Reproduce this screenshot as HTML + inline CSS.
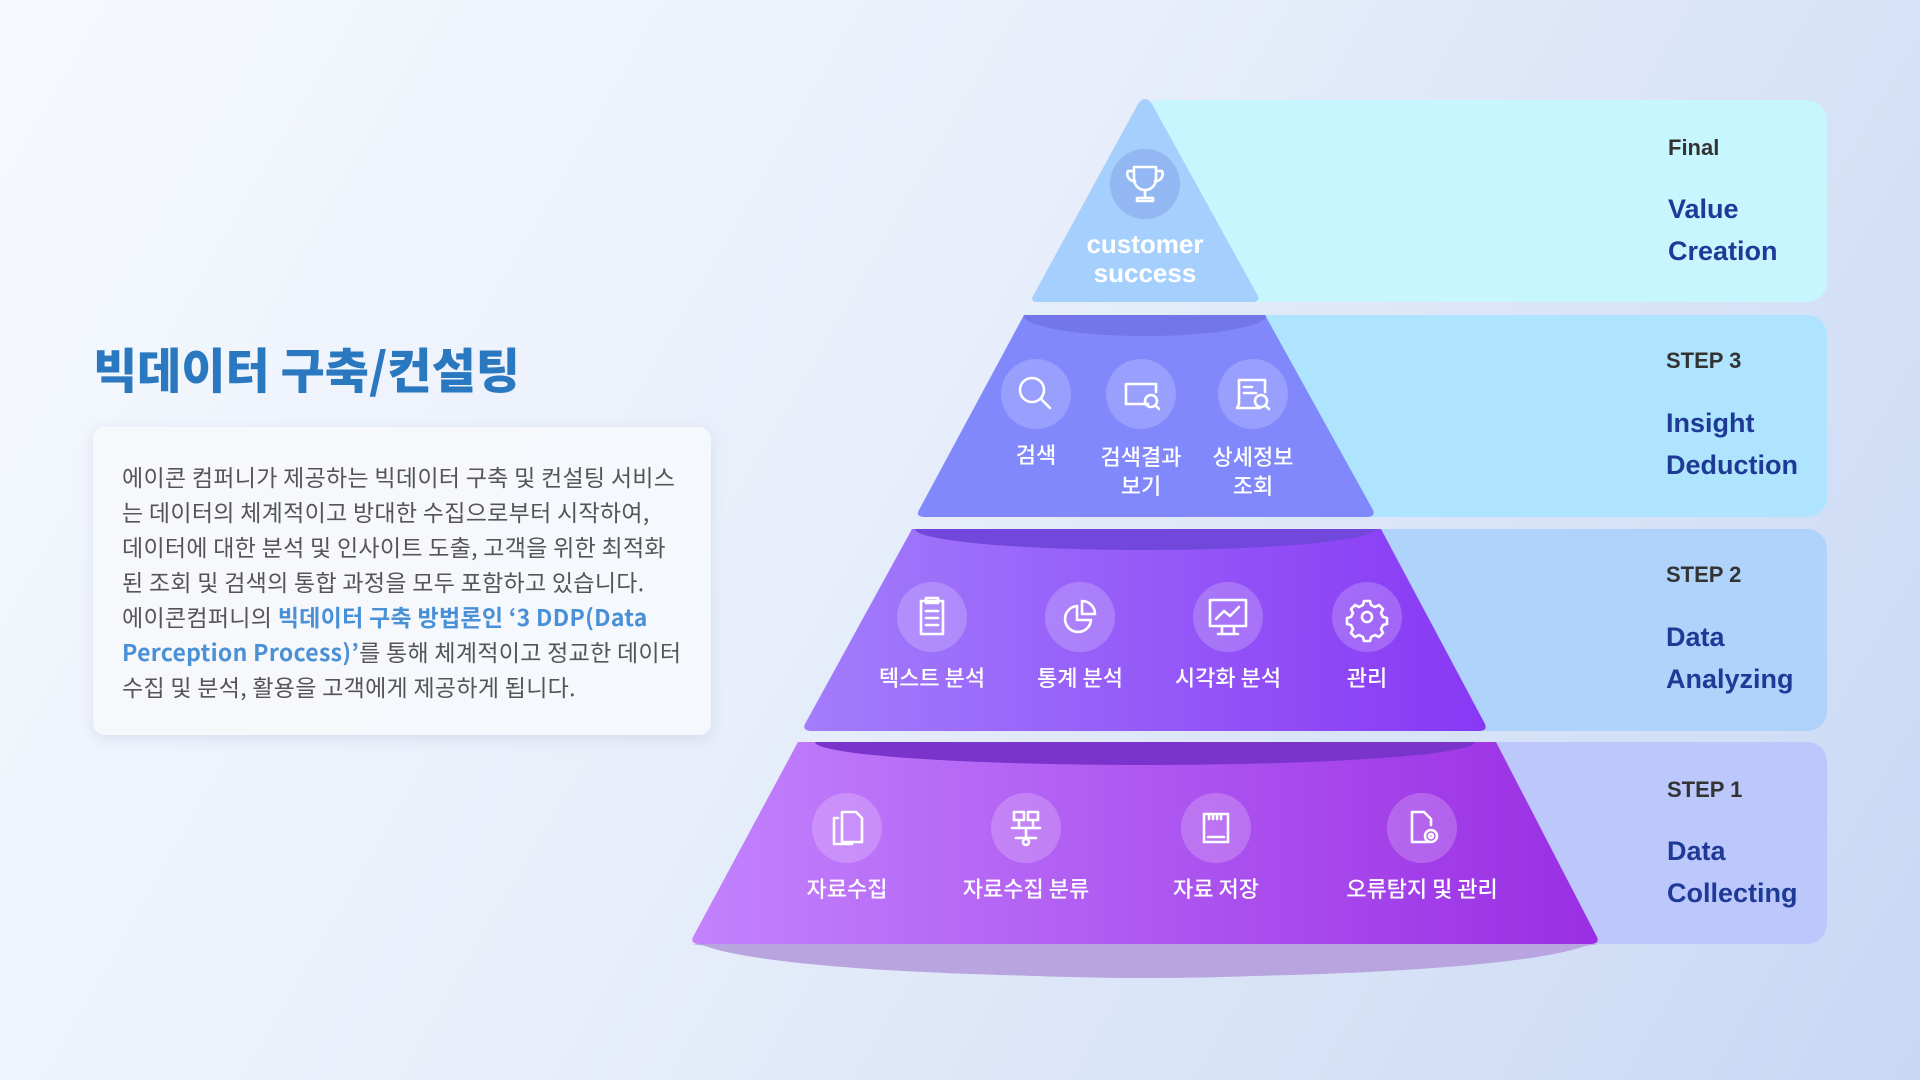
<!DOCTYPE html>
<html><head><meta charset="utf-8"><style>
html,body{margin:0;padding:0;width:1920px;height:1080px;overflow:hidden;}
body{background:linear-gradient(120deg,#f6f9fe 0%,#e8eefa 45%,#c8d8f4 100%);font-family:"Liberation Sans","Noto Sans CJK KR",sans-serif;position:relative;}
h1{position:absolute;left:93px;top:332px;margin:0;font-size:48px;font-weight:900;color:#2a78c0;letter-spacing:0px;font-family:"Noto Sans CJK KR",sans-serif;}
.card{position:absolute;left:93px;top:427px;width:618px;height:308px;background:rgba(246,248,252,0.9);border-radius:12px;box-shadow:0 4px 14px rgba(120,140,180,0.18);}
.card p{margin:0;position:absolute;left:29px;top:32px;font-size:23px;line-height:35px;color:#555;letter-spacing:0.3px;white-space:nowrap;font-family:"Noto Sans CJK KR",sans-serif;}
.card b{color:#4a90d6;font-weight:600;}
svg{position:absolute;left:0;top:0;}
</style></head><body>
<h1>빅데이터 구축/컨설팅</h1>
<div class="card"><p>에이콘 컴퍼니가 제공하는 빅데이터 구축 및 컨설팅 서비스<br>는 데이터의 체계적이고 방대한 수집으로부터 시작하여,<br>데이터에 대한 분석 및 인사이트 도출, 고객을 위한 최적화<br>된 조회 및 검색의 통합 과정을 모두 포함하고 있습니다.<br>에이콘컴퍼니의 <b>빅데이터 구축 방법론인 ‘3 DDP(Data</b><br><b>Perception Process)’</b>를 통해 체계적이고 정교한 데이터<br>수집 및 분석, 활용을 고객에게 제공하게 됩니다.</p></div>
<svg width="1920" height="1080" viewBox="0 0 1920 1080" font-family="Liberation Sans, Noto Sans CJK KR, sans-serif">
<defs>
<linearGradient id="g2" x1="0" x2="1"><stop offset="0" stop-color="#a27dfc"/><stop offset="1" stop-color="#8838f4"/></linearGradient>
<linearGradient id="g1" x1="0" x2="1"><stop offset="0" stop-color="#c382fd"/><stop offset="1" stop-color="#9a2ee4"/></linearGradient>
<clipPath id="c3"><path d="M1024,315 L1265,315 L1373,517 L918,517 Z"/></clipPath>
<clipPath id="c2"><path d="M912,529 L1381,529 L1487,731 L804,731 Z"/></clipPath>
<clipPath id="c1"><path d="M798,742 L1496,742 L1599,944 L692,944 Z"/></clipPath>
</defs>
<rect x="1140" y="100" width="687" height="202" rx="20" fill="#c8f6fe"/>
<rect x="1140" y="315" width="687" height="202" rx="20" fill="#aee4fd"/>
<rect x="1140" y="529" width="687" height="202" rx="20" fill="#b0d3fc"/>
<rect x="1140" y="742" width="687" height="202" rx="20" fill="#bcc8fc"/>
<path d="M692,944 Q1145,1012 1599,944 Z" fill="#b8a4de"/>
<path d="M700,944 C800,988 1490,988 1590,944 Z" fill="#b8a4de"/>
<path d="M1138,104 Q1145,94 1152,104 L1258,296 Q1260,302 1252,302 L1038,302 Q1030,302 1033,296 Z" fill="#a5d0fe"/>
<path d="M1024,315 L1265,315 L1373,510 Q1376,517 1366,517 L925,517 Q915,517 919,510 Z" fill="#8088fc"/>
<g clip-path="url(#c3)"><ellipse cx="1145" cy="315" rx="122" ry="21" fill="#7276ea"/></g>
<path d="M912,529 L1381,529 L1485,724 Q1488,731 1478,731 L812,731 Q802,731 805,724 Z" fill="url(#g2)"/>
<g clip-path="url(#c2)"><ellipse cx="1145" cy="529" rx="230" ry="21" fill="#7248dc"/></g>
<path d="M798,742 L1496,742 L1597,937 Q1600,944 1590,944 L700,944 Q690,944 693,937 Z" fill="url(#g1)"/>
<g clip-path="url(#c1)"><ellipse cx="1145" cy="742" rx="330" ry="23" fill="#7a34cc"/></g>
<g fill="#ffffff" fill-opacity="0.2">
<circle cx="1145" cy="184" r="35" fill="#7f9ee8" fill-opacity="0.5"/>
<circle cx="1036" cy="394" r="35"/><circle cx="1141" cy="394" r="35"/><circle cx="1253" cy="394" r="35"/>
<circle cx="932" cy="617" r="35"/><circle cx="1080" cy="617" r="35"/><circle cx="1228" cy="617" r="35"/><circle cx="1367" cy="617" r="35"/>
<circle cx="847" cy="828" r="35"/><circle cx="1026" cy="828" r="35"/><circle cx="1216" cy="828" r="35"/><circle cx="1422" cy="828" r="35"/>
</g>
<g fill="none" stroke="#fff" stroke-width="2.6" stroke-linecap="round" stroke-linejoin="round">
<path d="M1134,167 h22 v12 a11,11 0 0 1 -22,0 z M1134,171 h-6 a7,7 0 0 0 7,10 M1156,171 h6 a7,7 0 0 1 -7,10 M1145,190 v8 M1137,201 h16 v-3 h-16 z"/>
<circle cx="1032" cy="390" r="12"/><path d="M1041,399 l9,9"/>
<path d="M1148,404 h-22 v-20 h30 v8"/><circle cx="1151" cy="401" r="6"/><path d="M1155,405 l4,4"/>
<path d="M1260,408 h-23 l2,-4 v-24 h26 v12 M1244,387 h8 M1244,393 h12"/><circle cx="1261" cy="401" r="6"/><path d="M1265,405 l4,4"/>
<path d="M921,601 h22 v33 h-22 z M926,598 h12 v5 h-12 z M926,611 h12 M926,618 h12 M926,625 h12"/>
<path d="M1077,606 a13,13 0 1 0 14,14 h-14 z M1082,601 a13,13 0 0 1 13,13 h-13 z"/>
<path d="M1210,600 h36 v26 h-36 z M1222,626 v7 M1234,626 v7 M1218,634 h20 M1216,619 l8,-8 l6,5 l9,-9"/>
<circle cx="1367" cy="617" r="5"/><path d="M1364,601 h6 l1,4 l4,2 l4,-2 l4,4 l-2,4 l2,4 l4,1 v6 l-4,1 l-2,4 l2,4 l-4,4 l-4,-2 l-4,2 l-1,4 h-6 l-1,-4 l-4,-2 l-4,2 l-4,-4 l2,-4 l-2,-4 l-4,-1 v-6 l4,-1 l2,-4 l-2,-4 l4,-4 l4,2 l4,-2 z"/>
<path d="M842,812 h14 l6,6 v24 h-20 z M838,818 h-4 v26 h18"/>
<path d="M1014,812 h10 v8 h-10 z M1028,812 h10 v8 h-10 z M1019,820 v6 M1033,820 v6 M1012,828 h28 M1026,828 v10 M1016,838 h20"/><circle cx="1026" cy="842" r="3"/>
<path d="M1204,814 h24 v28 h-24 z M1208,837 h16 M1209,814 v5 M1213,814 v5 M1217,814 v5 M1221,814 v5"/>
<path d="M1428,842 h-16 v-30 h12 l7,7 v6"/><circle cx="1431" cy="836" r="6"/><circle cx="1431" cy="836" r="2"/>
</g>
<g fill="#fff" font-weight="700" font-size="26" text-anchor="middle"><text x="1145" y="253">customer</text><text x="1145" y="282">success</text></g>
<g fill="#fff" font-size="22" font-weight="500" text-anchor="middle" font-family="Noto Sans CJK KR, sans-serif">
<text x="1036" y="463">검색</text><text x="1141" y="465">검색결과</text><text x="1141" y="494">보기</text><text x="1253" y="465">상세정보</text><text x="1253" y="494">조회</text>
<text x="932" y="686">텍스트 분석</text><text x="1080" y="686">통계 분석</text><text x="1228" y="686">시각화 분석</text><text x="1367" y="686">관리</text>
<text x="847" y="897">자료수집</text><text x="1026" y="897">자료수집 분류</text><text x="1216" y="897">자료 저장</text><text x="1422" y="897">오류탐지 및 관리</text>
</g>
<g font-weight="700">
<text x="1668" y="155" font-size="22" fill="#333">Final</text>
<text x="1668" y="218" font-size="27" fill="#1e3a96">Value</text><text x="1668" y="260" font-size="27" fill="#1e3a96">Creation</text>
<text x="1666" y="368" font-size="22" fill="#333">STEP 3</text>
<text x="1666" y="432" font-size="27" fill="#1e3a96">Insight</text><text x="1666" y="474" font-size="27" fill="#1e3a96">Deduction</text>
<text x="1666" y="582" font-size="22" fill="#333">STEP 2</text>
<text x="1666" y="646" font-size="27" fill="#1e3a96">Data</text><text x="1666" y="688" font-size="27" fill="#1e3a96">Analyzing</text>
<text x="1667" y="797" font-size="22" fill="#333">STEP 1</text>
<text x="1667" y="860" font-size="27" fill="#1e3a96">Data</text><text x="1667" y="902" font-size="27" fill="#1e3a96">Collecting</text>
</g>
</svg>
</body></html>
